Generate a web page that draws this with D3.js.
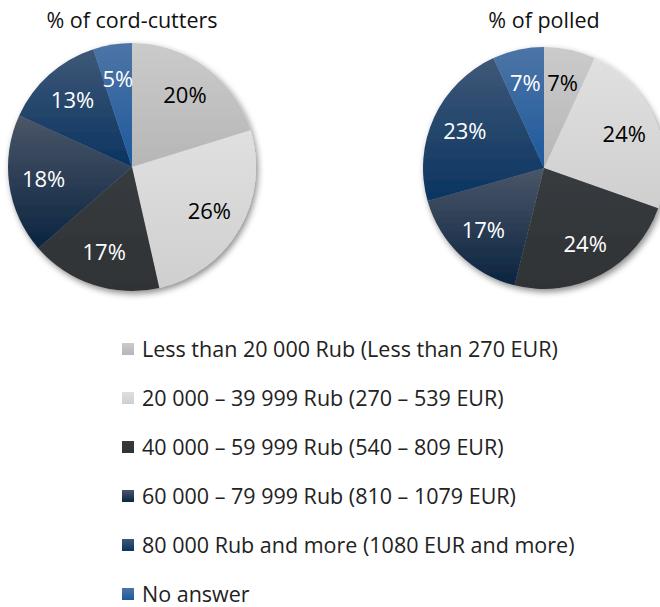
<!DOCTYPE html>
<html>
<head>
<meta charset="utf-8">
<script src="https://cdn.jsdelivr.net/npm/d3@7"></script>
<style>
  body { margin: 0; background: #fff; }
  text { font-family: "Open Sans", sans-serif; }
</style>
</head>
<body>
<div id="chart"></div>
<script>
// Data
const categories = [
  'Less than 20 000 Rub (Less than 270 EUR)',
  '20 000 \u2013 39 999 Rub (270 \u2013 539 EUR)',
  '40 000 \u2013 59 999 Rub (540 \u2013 809 EUR)',
  '60 000 \u2013 79 999 Rub (810 \u2013 1079 EUR)',
  '80 000 Rub and more (1080 EUR and more)',
  'No answer'
]
const cordCutters = [20, 26, 17, 18, 13, 5]
const polled = [7, 24, 24, 17, 23, 7]
const titles = ['% of cord-cutters', '% of polled']

// colour pairs: top of the slice, bottom of the slice
const topColors = ['#cbcbcb', '#e0e0e0', '#383b3e', '#4b5668', '#3f5877', '#4d74a6']
const bottomColors = ['#b6b6b6', '#cfcfcf', '#2f3336', '#0a2440', '#0a3461', '#1c5a9c']
const labelColors = ['#000', '#000', '#fff', '#fff', '#fff', '#fff']

// Dimensions
const dimensions = { width: 660, height: 607 }

const svg = d3.select('#chart')
  .append('svg')
  .attr('width', dimensions.width)
  .attr('height', dimensions.height)

const defs = svg.append('defs')

defs.append('filter')
  .attr('id', 'shadow')
  .attr('x', '-20%').attr('y', '-20%')
  .attr('width', '140%').attr('height', '140%')
  .append('feDropShadow')
  .attr('dx', 2).attr('dy', 3)
  .attr('stdDeviation', 3)
  .attr('flood-color', '#000')
  .attr('flood-opacity', 0.45)

categories.forEach((c, i) => {
  const g = defs.append('linearGradient')
    .attr('id', `grad${i}`)
    .attr('x1', 0).attr('y1', 0)
    .attr('x2', 0).attr('y2', 1)
  g.append('stop').attr('offset', '0%').attr('stop-color', topColors[i])
  g.append('stop').attr('offset', '100%').attr('stop-color', bottomColors[i])
})

const pie = d3.pie()
  .value(d => d)
  .sort(null)

function drawPie(values, cx, cy, radius, title) {
  const slices = pie(values)

  const arc = d3.arc()
    .outerRadius(radius)
    .innerRadius(0)

  const labelR = radius * 0.72
  const arcLabels = d3.arc()
    .outerRadius(labelR)
    .innerRadius(labelR)

  svg.append('text')
    .attr('x', cx)
    .attr('y', 28)
    .attr('text-anchor', 'middle')
    .style('font-size', '21.5px')
    .attr('fill', '#111')
    .text(title)

  const group = svg.append('g')
    .attr('transform', `translate(${cx}, ${cy})`)

  group.append('g')
    .attr('filter', 'url(#shadow)')
    .selectAll('path')
    .data(slices)
    .join('path')
    .attr('d', arc)
    .attr('fill', (d, i) => `url(#grad${i})`)

  group.selectAll('text')
    .data(slices)
    .join('text')
    .attr('transform', d => `translate(${arcLabels.centroid(d)})`)
    .attr('text-anchor', 'middle')
    .attr('dy', '0.35em')
    .style('font-size', '22px')
    .attr('fill', (d, i) => labelColors[i])
    .text(d => d.data + '%')
}

drawPie(cordCutters, 132, 167, 124, titles[0])
drawPie(polled, 544, 168, 121, titles[1])

// Legend
const legendY = d3.scalePoint()
  .domain(categories)
  .range([349, 594])

const legend = svg.append('g')
  .selectAll('g')
  .data(categories)
  .join('g')
  .attr('transform', d => `translate(122, ${legendY(d)})`)

legend.append('rect')
  .attr('x', 0)
  .attr('y', -6)
  .attr('width', 12)
  .attr('height', 12)
  .attr('fill', (d, i) => `url(#grad${i})`)

legend.append('text')
  .attr('x', 20)
  .attr('dy', '0.35em')
  .style('font-size', '21.5px')
  .attr('fill', '#222')
  .text(d => d)
</script>
</body>
</html>
